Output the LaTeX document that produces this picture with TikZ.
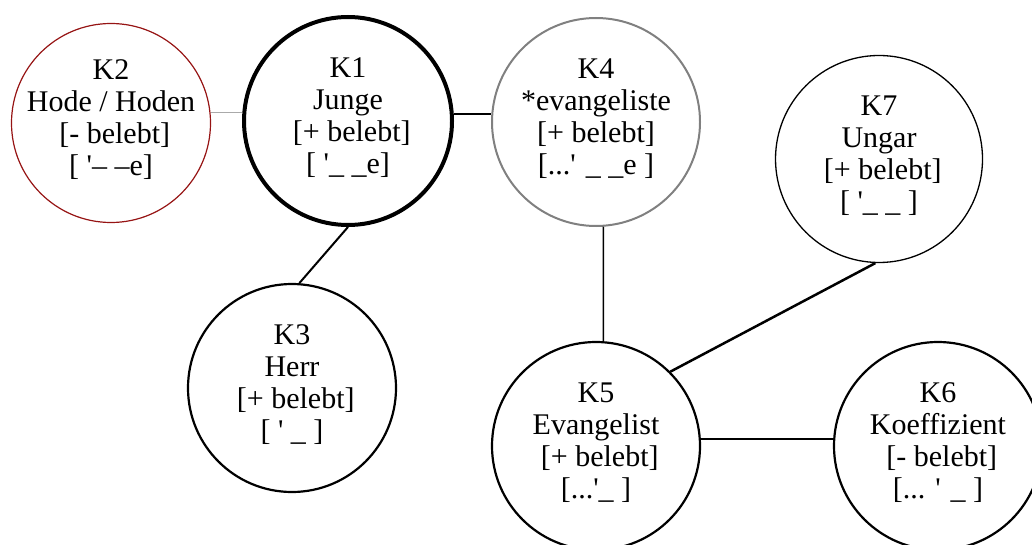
\documentclass[tikz,border=0pt]{standalone}
\font\tnr="Liberation Serif" at 30pt
\def\lblfont{\tnr\baselineskip=32pt\relax}
\definecolor{k2red}{RGB}{150,20,20}
\definecolor{k4gray}{RGB}{128,128,128}
\definecolor{lgray}{RGB}{170,170,170}
\tikzset{
  circ/.style={circle, draw, inner sep=0pt, line width=2.2pt},
  lbl/.style={font=\lblfont, align=center, inner sep=0pt},
  conn/.style={line width=2pt},
}
\begin{document}
\begin{tikzpicture}[x=1pt,y=-1pt]
\useasboundingbox (0,0) rectangle (1032,545);
\clip (0,0) rectangle (1032,545);
% circles
\node[circ, draw=k2red, line width=1.2pt, minimum size=199pt] (k2) at (111,123) {};
\node[circ, line width=4pt, minimum size=208pt] (k1) at (348,121) {};
\node[circ, draw=k4gray, line width=2pt, minimum size=208pt] (k4) at (596,122) {};
\node[circ, line width=1.3pt, minimum size=207pt] (k7) at (879,159) {};
\node[circ, minimum size=208pt] (k3) at (292,388) {};
\node[circ, minimum size=208pt] (k5) at (596,446) {};
\node[circ, minimum size=208pt] (k6) at (938,446) {};
% texts
\node[lbl] (t2) at ([yshift=3.5pt]k2.center) {K2\\Hode / Hoden\\\relax\ \lbrack- belebt\rbrack\\\relax\lbrack\ '– –e\rbrack};
\node[lbl] (t1) at ([yshift=3.5pt]k1.center) {K1\\Junge\\\relax\ \lbrack+ belebt\rbrack\\\relax\lbrack\ '\_ \_e\rbrack};
\node[lbl] (t4) at ([yshift=3.5pt]k4.center) {K4\\*evangeliste\\\relax\lbrack+ belebt\rbrack\\\relax\lbrack...' \_ \_e \rbrack};
\node[lbl] (t7) at ([yshift=3.5pt]k7.center) {K7\\Ungar\\\relax\ \lbrack+ belebt\rbrack\\\relax\lbrack\ '\_ \_ \rbrack};
\node[lbl] (t3) at ([yshift=3.5pt]k3.center) {K3\\Herr\\\relax\ \lbrack+ belebt\rbrack\\\relax\lbrack\ ' \_ \rbrack};
\node[lbl] (t5) at ([yshift=3.5pt]k5.center) {K5\\Evangelist\\\relax\ \lbrack+ belebt\rbrack\\\relax\lbrack...'\_ \rbrack};
\node[lbl] (t6) at ([yshift=3.5pt]k6.center) {K6\\Koeffizient\\\relax\ \lbrack- belebt\rbrack\\\relax\lbrack... ' \_ \rbrack};
% connectors
\draw[conn, draw=lgray, line width=1.2pt] (k2.6) -- (k2.6 -| k1.west);
\draw[conn] (k1.4) -- (k1.4 -| k4.west);
\draw[conn] (k1.-90) -- (k3.86);
\draw[conn, line width=1.6pt] (k4.-86) -- (k5.86);
\draw[conn, line width=2.5pt] (k7.-92) -- (k5.45);
\draw[conn] (k5.4) -- (k5.4 -| k6.west);
\end{tikzpicture}
\end{document}
